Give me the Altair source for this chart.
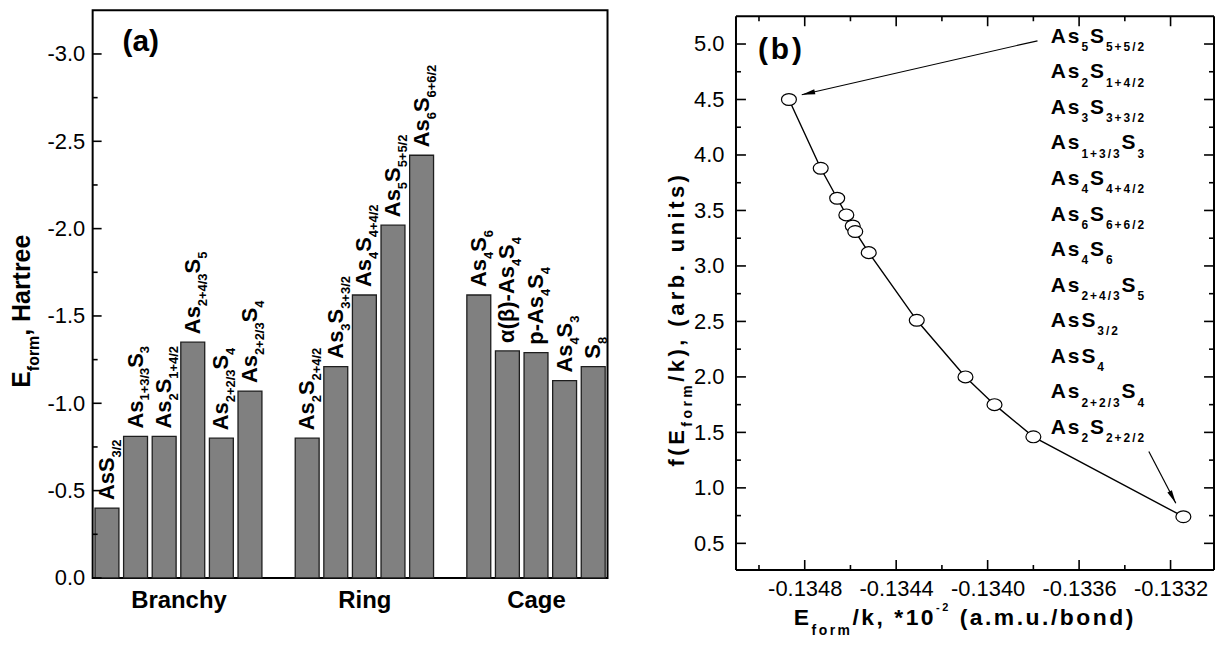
import math
import re
import altair as alt
import pandas as pd

FONT = "Liberation Sans"

# ---------------- panel (a): formation energies ----------------
A_GROUPS = ["Branchy", "Ring", "Cage"]
A_BAR_GROUP = ["Branchy"] * 6 + ["Ring"] * 5 + ["Cage"] * 5
A_BAR_LABELS = [
    "AsS_{3/2}", "As_{1+3/3}S_{3}", "As_{2}S_{1+4/2}", "As_{2+4/3}S_{5}",
    "As_{2+2/3}S_{4}", "As_{2+2/3}S_{4}",
    "As_{2}S_{2+4/2}", "As_{3}S_{3+3/2}", "As_{4}S_{4+4/2}", "As_{5}S_{5+5/2}",
    "As_{6}S_{6+6/2}",
    "As_{4}S_{6}", "α(β)-As_{4}S_{4}", "p-As_{4}S_{4}", "As_{4}S_{3}", "S_{8}",
]
A_BAR_VALUES = [-0.40, -0.81, -0.81, -1.35, -0.80, -1.07,
                -0.80, -1.21, -1.62, -2.02, -2.42,
                -1.62, -1.30, -1.29, -1.13, -1.21]
A_Y_TICKS = [0.0, -0.5, -1.0, -1.5, -2.0, -2.5, -3.0]
A_Y_MINOR = [-0.25, -0.75, -1.25, -1.75, -2.25, -2.75]
A_Y_TITLE = "E_{form}, Hartree"
A_TAG = "(a)"

# ---------------- panel (b): distribution function ----------------
B_X = [-0.134869, -0.134730, -0.134658, -0.134618, -0.134590, -0.134579,
       -0.134520, -0.134310, -0.134097, -0.133970, -0.133800, -0.133144]
B_Y = [4.50, 3.88, 3.61, 3.46, 3.36, 3.31, 3.12, 2.51, 2.00, 1.75, 1.46, 0.74]
B_LABELS = [
    "As_{5}S_{5+5/2}", "As_{2}S_{1+4/2}", "As_{3}S_{3+3/2}", "As_{1+3/3}S_{3}",
    "As_{4}S_{4+4/2}", "As_{6}S_{6+6/2}", "As_{4}S_{6}", "As_{2+4/3}S_{5}",
    "AsS_{3/2}", "AsS_{4}", "As_{2+2/3}S_{4}", "As_{2}S_{2+2/2}",
]
B_X_TICKS = [-0.1348, -0.1344, -0.1340, -0.1336, -0.1332]
B_X_MINOR = [-0.1350, -0.1346, -0.1342, -0.1338, -0.1334]
B_Y_TICKS = [0.5, 1.0, 1.5, 2.0, 2.5, 3.0, 3.5, 4.0, 4.5, 5.0]
B_Y_MINOR = [0.75, 1.25, 1.75, 2.25, 2.75, 3.25, 3.75, 4.25, 4.75]
B_ARROW_FROM_X = [-0.133782, -0.133295]
B_ARROW_FROM_Y = [5.029, 1.328]
B_ARROW_TO_X = [-0.134813, -0.133177]
B_ARROW_TO_Y = [4.543, 0.862]
B_X_TITLE = "E_{form}/k, *10^{-2} (a.m.u./bond)"
B_Y_TITLE = "f(E_{form}/k), (arb. units)"
B_TAG = "(b)"

# ---------------- geometry ----------------
WA, HA = 517, 570
WB, HB = 480, 556
B_TOP = 6           # panel (b) frame sits a little lower than panel (a)
A_X_DOMAIN = [-0.5, 17.5]
A_Y_DOMAIN = [0.0, -3.25]
B_X_DOMAIN = [-0.1351006, -0.13301]
B_Y_DOMAIN = [0.26, 5.25]
TICK_FONT = 22

# Arial/Liberation Sans Bold advance widths (em)
WID = {" ": .278, "(": .333, ")": .333, "*": .389, "+": .584, ",": .278,
       "-": .333, ".": .278, "/": .278,
       "A": .722, "B": .722, "C": .722, "E": .667, "H": .722, "R": .722, "S": .667,
       "a": .556, "b": .611, "c": .556, "d": .611, "e": .556, "f": .333, "g": .611,
       "h": .611, "i": .278, "k": .556, "m": .889, "n": .611, "o": .611, "p": .611,
       "r": .389, "s": .556, "t": .333, "u": .611, "y": .556, "α": .62, "β": .61}
for _d in "0123456789":
    WID[_d] = .556


def parse(formula):
    segs = []
    for p in re.split(r"([_^]\{[^}]*\})", formula):
        if not p:
            continue
        if p.startswith("_{"):
            segs.append((p[2:-1], "sub"))
        elif p.startswith("^{"):
            segs.append((p[2:-1], "sup"))
        else:
            segs.append((p, "main"))
    return segs


def glyphs(formula, main, sub, sub_shift, track, sup=None, sup_shift=0.0):
    rows, along = [], 0.0
    for text, kind in parse(formula):
        if kind == "main":
            size, off = main, 0.0
        elif kind == "sub":
            size, off = sub, sub_shift
        else:
            size, off = (sup or sub), sup_shift
        for ch in text:
            if ch != " ":
                rows.append({"t": ch, "along": along, "size": size, "off": off})
            along += WID.get(ch, 0.6) * size + track
    return rows


# slot positions: groups separated by one empty slot
A_POS = []
slot = 0
for g in A_GROUPS:
    for gg in A_BAR_GROUP:
        if gg == g:
            A_POS.append(slot)
            slot += 1
    slot += 1
A_CENTERS = []
for g in A_GROUPS:
    ps = [p for p, gg in zip(A_POS, A_BAR_GROUP) if gg == g]
    A_CENTERS.append(sum(ps) / len(ps))

a_dx = (A_X_DOMAIN[1] - A_X_DOMAIN[0]) / WA
a_dy = (A_Y_DOMAIN[0] - A_Y_DOMAIN[1]) / HA
b_dx = (B_X_DOMAIN[1] - B_X_DOMAIN[0]) / WB
b_dy = (B_Y_DOMAIN[1] - B_Y_DOMAIN[0]) / HB


def a_x(px):
    return A_X_DOMAIN[0] + px * a_dx


def a_y(py):
    return A_Y_DOMAIN[1] + py * a_dy


def b_x(px):
    return B_X_DOMAIN[0] + px * b_dx


def b_y(py):
    return B_Y_DOMAIN[1] - py * b_dy


# ---------------- panel (a) tables ----------------
bars_df = pd.DataFrame({"pos": A_POS, "val": A_BAR_VALUES,
                        "label": A_BAR_LABELS, "group": A_BAR_GROUP})
bars_df["x0"] = bars_df["pos"] - 0.418
bars_df["x1"] = bars_df["pos"] + 0.418

GAP = 8
rot_a = []
for p, v, lab in zip(A_POS, A_BAR_VALUES, A_BAR_LABELS):
    for gl in glyphs(lab, 22, 13, 7, 0):
        rot_a.append({"t": gl["t"], "size": gl["size"],
                      "x": p + (7 + gl["off"]) * a_dx,
                      "y": v - (GAP + gl["along"]) * a_dy})
for gl in glyphs(A_Y_TITLE, 25, 16, 9.5, 0):
    rot_a.append({"t": gl["t"], "size": gl["size"],
                  "x": a_x(-63 + gl["off"]), "y": a_y(379 - gl["along"])})
rot_a_df = pd.DataFrame(rot_a)

hor_a = []
for gl in glyphs(A_TAG, 30, 30, 0, 0):
    hor_a.append({"t": gl["t"], "size": gl["size"],
                  "x": a_x(30 + gl["along"]), "y": a_y(41)})
hor_a_df = pd.DataFrame(hor_a)

sxa = alt.Scale(domain=A_X_DOMAIN, nice=False, zero=False)
sya = alt.Scale(domain=A_Y_DOMAIN, nice=False, zero=False)
xa_expr = " : ".join(f"datum.value == {c} ? '{g}'" for c, g in zip(A_CENTERS, A_GROUPS)) + " : ''"
axis_xa = alt.Axis(values=A_CENTERS, labelExpr=xa_expr, ticks=False, tickSize=0,
                   domain=False, grid=False, labelFont=FONT, labelFontSize=24,
                   labelFontWeight="bold", labelColor="black", labelPadding=11,
                   labelFlush=False, labelOverlap=False)
axis_ya = alt.Axis(values=A_Y_TICKS,
                   labelExpr="datum.value == 0 ? '0.0' : '-' + format(-datum.value, '.1f')",
                   ticks=False, tickSize=0, domain=False, grid=False, labelFont=FONT,
                   labelFontSize=TICK_FONT, labelColor="black", labelPadding=8,
                   labelFlush=False, labelOverlap=False)


def AX(f):
    return alt.X(f, type="quantitative", scale=sxa, axis=axis_xa, title=None)


def AY(f):
    return alt.Y(f, type="quantitative", scale=sya, axis=axis_ya, title=None)


bars = alt.Chart(bars_df).mark_bar(color="#808080", stroke="#1e1e1e", strokeWidth=1.3).encode(
    x=AX("x0"), x2="x1", y=AY("val"), y2=alt.datum(0))
a_major = alt.Chart(pd.DataFrame({"v": A_Y_TICKS})).mark_rule(color="black", strokeWidth=1.6).encode(
    y=AY("v"), x=alt.value(0), x2=alt.value(9))
a_minor = alt.Chart(pd.DataFrame({"v": A_Y_MINOR})).mark_rule(color="black", strokeWidth=1.6).encode(
    y=AY("v"), x=alt.value(0), x2=alt.value(5))
a_rot = alt.Chart(rot_a_df).mark_text(angle=270, align="left", baseline="alphabetic", font=FONT,
                                      fontWeight="bold", color="black").encode(
    x=AX("x"), y=AY("y"), size=alt.Size("size:Q", scale=None), text="t:N")
a_hor = alt.Chart(hor_a_df).mark_text(align="left", baseline="alphabetic", font=FONT,
                                      fontWeight="bold", color="black").encode(
    x=AX("x"), y=AY("y"), size=alt.Size("size:Q", scale=None), text="t:N")

panel_a = alt.layer(bars, a_major, a_minor, a_rot, a_hor).properties(width=WA, height=HA)

# ---------------- panel (b) tables ----------------
pts_df = pd.DataFrame({"x": B_X, "y": B_Y})
arr_df = pd.DataFrame({"x0": B_ARROW_FROM_X, "y0": B_ARROW_FROM_Y,
                       "x1": B_ARROW_TO_X, "y1": B_ARROW_TO_Y})
angs = []
for x0, y0, x1, y1 in zip(B_ARROW_FROM_X, B_ARROW_FROM_Y, B_ARROW_TO_X, B_ARROW_TO_Y):
    dxp = (x1 - x0) / b_dx
    dyp = -(y1 - y0) / b_dy
    angs.append(math.degrees(math.atan2(dxp, -dyp)) % 360)
arr_df["ang"] = angs

hor_b = []
for i, lab in enumerate(B_LABELS):
    for gl in glyphs(lab, 21, 12, 8.3, 2):
        hor_b.append({"t": gl["t"], "size": gl["size"],
                      "x": b_x(316 + gl["along"]), "y": b_y(26.6 + 35.7 * i + gl["off"])})
for gl in glyphs(B_X_TITLE, 23, 14, 10, 2.5, sup=11, sup_shift=-14):
    hor_b.append({"t": gl["t"], "size": gl["size"],
                  "x": b_x(58 + gl["along"]), "y": b_y(HB + 55 + gl["off"])})
for gl in glyphs(B_TAG, 30, 30, 0, 3):
    hor_b.append({"t": gl["t"], "size": gl["size"],
                  "x": b_x(22 + gl["along"]), "y": b_y(43)})
hor_b_df = pd.DataFrame(hor_b)

rot_b = []
for gl in glyphs(B_Y_TITLE, 22, 14, 8, 3.5):
    rot_b.append({"t": gl["t"], "size": gl["size"],
                  "x": b_x(-52 + gl["off"]), "y": b_y(452 - gl["along"])})
rot_b_df = pd.DataFrame(rot_b)

sxb = alt.Scale(domain=B_X_DOMAIN, nice=False, zero=False)
syb = alt.Scale(domain=B_Y_DOMAIN, range=[HB + B_TOP, B_TOP], nice=False, zero=False)
axis_xb = alt.Axis(values=B_X_TICKS, labelExpr="'-' + format(-datum.value, '.4f')",
                   ticks=False, tickSize=0, domain=False, grid=False, labelFont=FONT,
                   labelFontSize=TICK_FONT, labelColor="black", labelPadding=9,
                   labelFlush=False, labelOverlap=False)
axis_yb = alt.Axis(values=B_Y_TICKS, format=".1f", ticks=False, tickSize=0, domain=False,
                   grid=False, labelFont=FONT, labelFontSize=TICK_FONT, labelColor="black",
                   labelPadding=12, labelFlush=False, labelOverlap=False)


def BX(f):
    return alt.X(f, type="quantitative", scale=sxb, axis=axis_xb, title=None)


def BY(f):
    return alt.Y(f, type="quantitative", scale=syb, axis=axis_yb, title=None)


ELLIPSE = "M-1.2,0A1.2,0.95,0,1,1,1.2,0A1.2,0.95,0,1,1,-1.2,0Z"
HEAD = "M0,0L0.36,1.9L-0.36,1.9Z"

line = alt.Chart(pts_df).mark_line(color="black", strokeWidth=1.4).encode(x=BX("x"), y=BY("y"))
pts = alt.Chart(pts_df).mark_point(shape=ELLIPSE, size=156, filled=True, fill="white",
                                   stroke="black", strokeWidth=1.2, opacity=1).encode(
    x=BX("x"), y=BY("y"))
arrows = alt.Chart(arr_df).mark_rule(color="black", strokeWidth=1.2).encode(
    x=BX("x0"), y=BY("y0"), x2="x1", y2="y1")
heads = alt.Chart(arr_df).mark_point(shape=HEAD, size=200, filled=True, color="black",
                                     opacity=1).encode(
    x=BX("x1"), y=BY("y1"), angle=alt.Angle("ang:Q", scale=None))

YB0, YB1 = B_TOP, HB + B_TOP
tick_layers = []
for vals, ln in ((B_Y_TICKS, 10), (B_Y_MINOR, 5)):
    d = pd.DataFrame({"v": vals})
    tick_layers.append(alt.Chart(d).mark_rule(color="black", strokeWidth=1.6).encode(
        y=BY("v"), x=alt.value(0), x2=alt.value(ln)))
    tick_layers.append(alt.Chart(d).mark_rule(color="black", strokeWidth=1.6).encode(
        y=BY("v"), x=alt.value(WB), x2=alt.value(WB - ln)))
for vals, ln in ((B_X_TICKS, 10), (B_X_MINOR, 5)):
    d = pd.DataFrame({"v": vals})
    tick_layers.append(alt.Chart(d).mark_rule(color="black", strokeWidth=1.6).encode(
        x=BX("v"), y=alt.value(YB1), y2=alt.value(YB1 - ln)))
    tick_layers.append(alt.Chart(d).mark_rule(color="black", strokeWidth=1.6).encode(
        x=BX("v"), y=alt.value(YB0), y2=alt.value(YB0 + ln)))

one = pd.DataFrame({"d": [0]})
frame_b = [
    alt.Chart(one).mark_rule(color="black", strokeWidth=2).encode(
        x=alt.value(0), x2=alt.value(WB), y=alt.value(YB0)),
    alt.Chart(one).mark_rule(color="black", strokeWidth=2).encode(
        x=alt.value(0), x2=alt.value(WB), y=alt.value(YB1)),
    alt.Chart(one).mark_rule(color="black", strokeWidth=2).encode(
        x=alt.value(0), y=alt.value(YB0), y2=alt.value(YB1)),
    alt.Chart(one).mark_rule(color="black", strokeWidth=2).encode(
        x=alt.value(WB), y=alt.value(YB0), y2=alt.value(YB1)),
]

b_hor = alt.Chart(hor_b_df).mark_text(align="left", baseline="alphabetic", font=FONT,
                                      fontWeight="bold", color="black").encode(
    x=BX("x"), y=BY("y"), size=alt.Size("size:Q", scale=None), text="t:N")
b_rot = alt.Chart(rot_b_df).mark_text(angle=270, align="left", baseline="alphabetic", font=FONT,
                                      fontWeight="bold", color="black").encode(
    x=BX("x"), y=BY("y"), size=alt.Size("size:Q", scale=None), text="t:N")

panel_b = alt.layer(line, pts, arrows, heads, *tick_layers, *frame_b, b_hor, b_rot).properties(
    width=WB, height=HB + B_TOP, view=alt.ViewBackground(stroke=None))

chart = alt.hconcat(panel_a, panel_b, spacing=54).properties(padding=0).configure_view(
    stroke="black", strokeWidth=2)

chart.save("out.html", embed_options={"renderer": "svg", "actions": False})
